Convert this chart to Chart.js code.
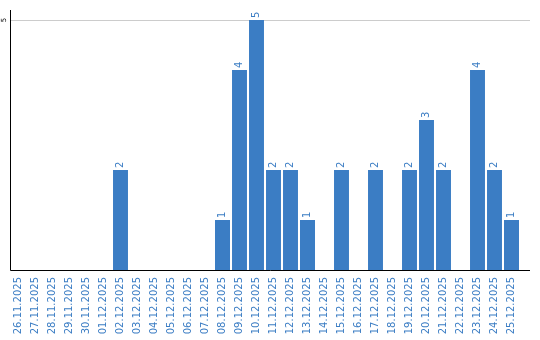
<!DOCTYPE html>
<html>
<head>
<meta charset="utf-8">
<script src="https://cdn.jsdelivr.net/npm/chart.js@4/dist/chart.umd.min.js"></script>
<style>
  html, body { margin: 0; padding: 0; background: #fff; }
  #wrap { width: 540px; height: 340px; }
</style>
</head>
<body>
<div id="wrap"><canvas id="chart"></canvas></div>
<script>
const days = [
  '26.11.2025', '27.11.2025', '28.11.2025', '29.11.2025', '30.11.2025',
  '01.12.2025', '02.12.2025', '03.12.2025', '04.12.2025', '05.12.2025',
  '06.12.2025', '07.12.2025', '08.12.2025', '09.12.2025', '10.12.2025',
  '11.12.2025', '12.12.2025', '13.12.2025', '14.12.2025', '15.12.2025',
  '16.12.2025', '17.12.2025', '18.12.2025', '19.12.2025', '20.12.2025',
  '21.12.2025', '22.12.2025', '23.12.2025', '24.12.2025', '25.12.2025'
];
const counts = [
  0, 0, 0, 0, 0,
  0, 2, 0, 0, 0,
  0, 0, 1, 4, 5,
  2, 2, 1, 0, 2,
  0, 2, 0, 2, 3,
  2, 0, 4, 2, 1
];
const yTicks = [5];

const blue = '#3b7dc4';
const fontFamily = '"DejaVu Sans", Verdana, sans-serif';

// axis lines, single gridline, rotated y tick and value labels
const decorations = {
  id: 'decorations',
  beforeDatasetsDraw(chart) {
    const { ctx, chartArea, scales } = chart;
    ctx.save();
    ctx.strokeStyle = '#cccccc';
    ctx.lineWidth = 1;
    yTicks.forEach(v => {
      const y = Math.round(scales.y.getPixelForValue(v)) + 0.5;
      ctx.beginPath();
      ctx.moveTo(chartArea.left, y);
      ctx.lineTo(chartArea.right + 10, y);
      ctx.stroke();
    });
    ctx.restore();
  },
  afterDatasetsDraw(chart) {
    const { ctx, chartArea, scales } = chart;
    ctx.save();
    ctx.strokeStyle = '#000';
    ctx.lineWidth = 1;
    ctx.beginPath();
    ctx.moveTo(chartArea.left + 0.5, chartArea.top);
    ctx.lineTo(chartArea.left + 0.5, chartArea.bottom + 0.5);
    ctx.lineTo(chartArea.right + 10, chartArea.bottom + 0.5);
    ctx.stroke();

    // y tick labels
    ctx.fillStyle = '#000';
    ctx.font = '7px ' + fontFamily;
    ctx.textAlign = 'center';
    ctx.textBaseline = 'middle';
    yTicks.forEach(v => {
      ctx.save();
      ctx.translate(chartArea.left - 6, scales.y.getPixelForValue(v));
      ctx.rotate(-Math.PI / 2);
      ctx.fillText(String(v), 0, 0);
      ctx.restore();
    });

    // value labels above bars
    ctx.fillStyle = blue;
    ctx.font = '10px ' + fontFamily;
    ctx.textAlign = 'left';
    ctx.textBaseline = 'middle';
    chart.getDatasetMeta(0).data.forEach((bar, i) => {
      if (!counts[i]) return;
      ctx.save();
      ctx.translate(bar.x, bar.y - 2);
      ctx.rotate(-Math.PI / 2);
      ctx.fillText(String(counts[i]), 0, 0);
      ctx.restore();
    });
    ctx.restore();
  }
};

const ctx = document.getElementById('chart').getContext('2d');
new Chart(ctx, {
  type: 'bar',
  data: {
    labels: days,
    datasets: [{
      data: counts,
      backgroundColor: blue,
      borderWidth: 0,
      barPercentage: 0.88,
      categoryPercentage: 1
    }]
  },
  options: {
    responsive: true,
    maintainAspectRatio: false,
    animation: false,
    layout: { padding: { left: 10, right: 20, top: 10, bottom: 6 } },
    plugins: {
      legend: { display: false },
      tooltip: { enabled: false }
    },
    scales: {
      x: {
        grid: { display: false, drawTicks: false },
        border: { display: false },
        afterFit: scale => { scale.height = 64; },
        ticks: {
          autoSkip: false,
          minRotation: 90,
          maxRotation: 90,
          padding: 7,
          color: blue,
          font: { family: fontFamily, size: 10 }
        }
      },
      y: {
        min: 0,
        max: 5.2,
        grid: { display: false, drawTicks: false },
        border: { display: false },
        ticks: { display: false }
      }
    }
  },
  plugins: [decorations]
});
</script>
</body>
</html>
